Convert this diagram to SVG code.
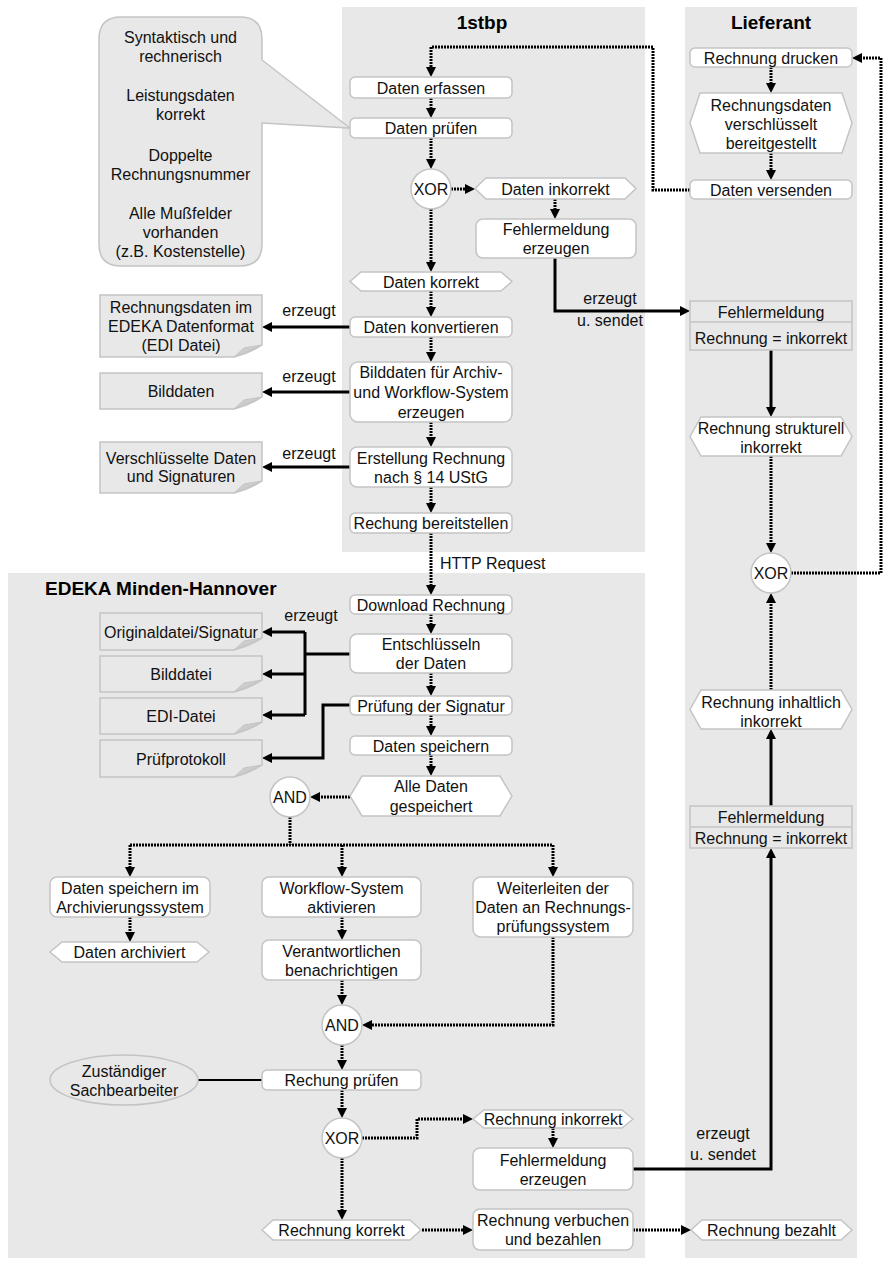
<svg xmlns="http://www.w3.org/2000/svg" width="892" height="1261" viewBox="0 0 892 1261">
<style>
.lane{fill:#e8e8e8}
.box{fill:#fff;stroke:#c4c4c4;stroke-width:1.5}
.doc{fill:#e8e8e8;stroke:#c4c4c4;stroke-width:1.5}
.fold{fill:#cdcdcd;stroke:#c4c4c4;stroke-width:1}
.t{font-family:"Liberation Sans",Arial,sans-serif;font-size:16px;fill:#111;text-anchor:middle}
.title{font-weight:bold;font-size:19px;fill:#000}
.st{text-anchor:start}
.dot{fill:none;stroke:#000;stroke-width:3;stroke-dasharray:2 1;marker-end:url(#arr)}
.sol{fill:none;stroke:#000;stroke-width:3;marker-end:url(#arr)}
.solp{fill:none;stroke:#000;stroke-width:3}
</style>
<defs>
<marker id="arr" viewBox="0 0 10 10" refX="4" refY="5" markerWidth="10" markerHeight="10" markerUnits="userSpaceOnUse" orient="auto">
<path d="M0,0 L10,5 L0,10 Z" fill="#000"/>
</marker>
</defs>
<rect width="892" height="1261" fill="#fff"/>
<g id="lanes">
<rect class="lane" x="342" y="7" width="303" height="545"/>
<rect class="lane" x="685" y="7" width="172" height="1251"/>
<rect class="lane" x="8" y="573" width="637" height="685"/>
<text class="t title" x="482" y="29">1stbp</text>
<text class="t title" x="771" y="29">Lieferant</text>
<text class="t title st" x="45" y="595">EDEKA Minden-Hannover</text>
</g>
<g id="callout">
<path class="doc" d="M121,17 H240 Q262,17 262,39 V60 L350,128 L262,123 V244 Q262,266 240,266 H121 Q99,266 99,244 V39 Q99,17 121,17 Z"/>
<text class="t" x="180.5" y="43">Syntaktisch und</text>
<text class="t" x="180.5" y="62">rechnerisch</text>
<text class="t" x="180.5" y="101">Leistungsdaten</text>
<text class="t" x="180.5" y="120">korrekt</text>
<text class="t" x="180.5" y="161">Doppelte</text>
<text class="t" x="180.5" y="180">Rechnungsnummer</text>
<text class="t" x="180.5" y="219">Alle Mußfelder</text>
<text class="t" x="180.5" y="238">vorhanden</text>
<text class="t" x="180.5" y="257">(z.B. Kostenstelle)</text>
</g>
<g id="connectors">
<path class="dot" d="M690,190 H653 V47 H431 V71"/>
<path class="dot" d="M791,573 H881 V58 H858"/>
<path class="dot" d="M431,98 V112"/>
<path class="dot" d="M431,138 V163"/>
<path class="dot" d="M451,189 H469"/>
<path class="dot" d="M555,199 V213"/>
<path class="dot" d="M431,209 V266"/>
<path class="dot" d="M431,291 V311"/>
<path class="dot" d="M431,337 V356"/>
<path class="dot" d="M431,422 V441"/>
<path class="dot" d="M431,487 V507"/>
<path class="dot" d="M431,533 V589"/>
<path class="dot" d="M431,614 V628"/>
<path class="dot" d="M431,673 V690"/>
<path class="dot" d="M431,715 V730"/>
<path class="dot" d="M431,755 V770"/>
<path class="dot" d="M350,797 H316"/>
<path class="dot" d="M290,817 V845 M130,845 H553" style="marker-end:none"/>
<path class="dot" d="M130,845 V871"/>
<path class="dot" d="M342,845 V871"/>
<path class="dot" d="M553,845 V871"/>
<path class="dot" d="M130,917 V936"/>
<path class="dot" d="M342,917 V934"/>
<path class="dot" d="M342,980 V999"/>
<path class="dot" d="M553,937 V1025 H368"/>
<path class="dot" d="M342,1045 V1064"/>
<path class="dot" d="M342,1090 V1112"/>
<path class="dot" d="M362,1138 H417 V1119 H467"/>
<path class="dot" d="M553,1128 V1142"/>
<path class="dot" d="M342,1158 V1214"/>
<path class="dot" d="M422,1230 H467"/>
<path class="dot" d="M633,1230 H685"/>
<path class="dot" d="M771,67 V87"/>
<path class="dot" d="M771,153 V174"/>
<path class="dot" d="M771,456 V547"/>
<path class="dot" d="M771,690 V599"/>
<path class="sol" d="M350,327 H268"/>
<path class="sol" d="M350,392 H268"/>
<path class="sol" d="M350,467 H268"/>
<path class="sol" d="M555,258 V311 H684"/>
<path class="sol" d="M771,350 V411"/>
<path class="solp" d="M350,654 H305 M305,632 V715"/>
<path class="sol" d="M305,632 H268"/>
<path class="sol" d="M305,674 H268"/>
<path class="sol" d="M305,715 H268"/>
<path class="sol" d="M350,705 H323 V758 H268"/>
<path class="sol" d="M633,1169 H771 V854"/>
<path class="sol" d="M771,806 V735"/>
<path d="M198,1080 H262" fill="none" stroke="#000" stroke-width="2"/>
<text class="t" x="309" y="316">erzeugt</text>
<text class="t" x="309" y="382">erzeugt</text>
<text class="t" x="309" y="459">erzeugt</text>
<text class="t" x="610" y="304">erzeugt</text>
<text class="t" x="610" y="326">u. sendet</text>
<text class="t st" x="440" y="569">HTTP Request</text>
<text class="t" x="311" y="621">erzeugt</text>
<text class="t" x="723" y="1139">erzeugt</text>
<text class="t" x="723" y="1160">u. sendet</text>
</g>
<g id="n_erfassen"><rect class="box" x="350" y="77" width="162" height="21" rx="5"/><text class="t" x="431" y="93.5">Daten erfassen</text></g>
<g id="n_pruefen"><rect class="box" x="350" y="118" width="162" height="20" rx="5"/><text class="t" x="431" y="134">Daten prüfen</text></g>
<g id="g_xor1"><circle class="box" cx="431" cy="189" r="20"/><text class="t" x="431" y="195">XOR</text></g>
<g id="e_dinkorrekt"><polygon class="box" points="475,188.5 486,178 625,178 636,188.5 625,199 486,199"/><text class="t" x="555.5" y="194.5">Daten inkorrekt</text></g>
<g id="n_fm1"><rect class="box" x="476" y="219" width="160" height="39" rx="7"/><text class="t" x="556" y="235">Fehlermeldung</text><text class="t" x="556" y="254">erzeugen</text></g>
<g id="e_dkorrekt"><polygon class="box" points="350,281.5 361,272 501,272 512,281.5 501,291 361,291"/><text class="t" x="431" y="287.5">Daten korrekt</text></g>
<g id="n_konv"><rect class="box" x="350" y="317" width="162" height="20" rx="5"/><text class="t" x="431" y="333">Daten konvertieren</text></g>
<g id="n_bild"><rect class="box" x="350" y="362" width="162" height="60" rx="8"/><text class="t" x="431" y="378">Bilddaten für Archiv-</text><text class="t" x="431" y="398">und Workflow-System</text><text class="t" x="431" y="418">erzeugen</text></g>
<g id="n_erst"><rect class="box" x="350" y="447" width="162" height="40" rx="7"/><text class="t" x="431" y="464">Erstellung Rechnung</text><text class="t" x="431" y="483">nach § 14 UStG</text></g>
<g id="n_bereit"><rect class="box" x="350" y="513" width="162" height="20" rx="5"/><text class="t" x="431" y="529">Rechung bereitstellen</text></g>
<g id="d_edi"><path class="doc" d="M100,295 H262 V345 Q250,353 234,357 H100 Z"/><path class="fold" d="M262,345 L244,348 L234,357 Z"/><text class="t" x="181" y="313">Rechnungsdaten im</text><text class="t" x="181" y="332">EDEKA Datenformat</text><text class="t" x="181" y="351">(EDI Datei)</text></g>
<g id="d_bild"><path class="doc" d="M100,373 H262 V397 Q250,405 234,409 H100 Z"/><path class="fold" d="M262,397 L244,400 L234,409 Z"/><text class="t" x="181" y="397">Bilddaten</text></g>
<g id="d_sig"><path class="doc" d="M100,442 H262 V481 Q250,489 234,493 H100 Z"/><path class="fold" d="M262,481 L244,484 L234,493 Z"/><text class="t" x="181" y="464">Verschlüsselte Daten</text><text class="t" x="181" y="482">und Signaturen</text></g>
<g id="l_drucken"><rect class="box" x="690" y="48" width="162" height="19" rx="5"/><text class="t" x="771" y="63.5">Rechnung drucken</text></g>
<g id="l_bereit"><polygon class="box" points="690,123 700,93 842,93 852,123 842,153 700,153"/><text class="t" x="771" y="110.5">Rechnungsdaten</text><text class="t" x="771" y="129.5">verschlüsselt</text><text class="t" x="771" y="148.5">bereitgestellt</text></g>
<g id="l_versenden"><rect class="box" x="690" y="180" width="162" height="19" rx="5"/><text class="t" x="771" y="195.5">Daten versenden</text></g>
<g id="l_fm1"><rect class="doc" x="690" y="301" width="162" height="49"/><line x1="690" y1="322" x2="852" y2="322" stroke="#c4c4c4" stroke-width="1.5"/><text class="t" x="771" y="317.5">Fehlermeldung</text><text class="t" x="771" y="344">Rechnung = inkorrekt</text></g>
<g id="l_strukt"><polygon class="box" points="690,436.5 701,417 841,417 852,436.5 841,456 701,456"/><text class="t" x="771" y="434">Rechnung strukturell</text><text class="t" x="771" y="453">inkorrekt</text></g>
<g id="l_xor"><circle class="box" cx="771" cy="573" r="20"/><text class="t" x="771" y="579">XOR</text></g>
<g id="l_inhalt"><polygon class="box" points="690,709.5 701,690 841,690 852,709.5 841,729 701,729"/><text class="t" x="771" y="708">Rechnung inhaltlich</text><text class="t" x="771" y="727">inkorrekt</text></g>
<g id="l_fm2"><rect class="doc" x="690" y="806" width="162" height="42"/><line x1="690" y1="827" x2="852" y2="827" stroke="#c4c4c4" stroke-width="1.5"/><text class="t" x="771" y="822.5">Fehlermeldung</text><text class="t" x="771" y="844">Rechnung = inkorrekt</text></g>
<g id="l_bezahlt"><polygon class="box" points="691,1230 702,1220 841,1220 852,1230 841,1240 702,1240"/><text class="t" x="771.5" y="1236">Rechnung bezahlt</text></g>
<g id="e_download"><rect class="box" x="350" y="595" width="162" height="19" rx="5"/><text class="t" x="431" y="610.5">Download Rechnung</text></g>
<g id="e_entschl"><rect class="box" x="350" y="634" width="162" height="39" rx="7"/><text class="t" x="431" y="650">Entschlüsseln</text><text class="t" x="431" y="669">der Daten</text></g>
<g id="e_signatur"><rect class="box" x="350" y="696" width="162" height="19" rx="5"/><text class="t" x="431" y="711.5">Prüfung der Signatur</text></g>
<g id="e_speichern"><rect class="box" x="350" y="736" width="162" height="19" rx="5"/><text class="t" x="431" y="751.5">Daten speichern</text></g>
<g id="e_alle"><polygon class="box" points="350,796 362,776 500,776 512,796 500,816 362,816"/><text class="t" x="431" y="792">Alle Daten</text><text class="t" x="431" y="812">gespeichert</text></g>
<g id="e_and1"><circle class="box" cx="290" cy="797" r="20"/><text class="t" x="290" y="803">AND</text></g>
<g id="d_orig"><path class="doc" d="M100,613 H262 V638 Q250,646 234,650 H100 Z"/><path class="fold" d="M262,638 L244,641 L234,650 Z"/><text class="t" x="181" y="637.5">Originaldatei/Signatur</text></g>
<g id="d_bilddatei"><path class="doc" d="M100,656 H262 V680 Q250,688 234,692 H100 Z"/><path class="fold" d="M262,680 L244,683 L234,692 Z"/><text class="t" x="181" y="680">Bilddatei</text></g>
<g id="d_edidatei"><path class="doc" d="M100,698 H262 V722 Q250,730 234,734 H100 Z"/><path class="fold" d="M262,722 L244,725 L234,734 Z"/><text class="t" x="181" y="722">EDI-Datei</text></g>
<g id="d_pruef"><path class="doc" d="M100,740 H262 V765 Q250,773 234,777 H100 Z"/><path class="fold" d="M262,765 L244,768 L234,777 Z"/><text class="t" x="181" y="764.5">Prüfprotokoll</text></g>
<g id="e_archiv"><rect class="box" x="50" y="877" width="160" height="40" rx="7"/><text class="t" x="130" y="893.5">Daten speichern im</text><text class="t" x="130" y="912.5">Archivierungssystem</text></g>
<g id="e_workflow"><rect class="box" x="262" y="877" width="159" height="40" rx="7"/><text class="t" x="341.5" y="893.5">Workflow-System</text><text class="t" x="341.5" y="912.5">aktivieren</text></g>
<g id="e_weiter"><rect class="box" x="473" y="877" width="160" height="60" rx="8"/><text class="t" x="553" y="894">Weiterleiten der</text><text class="t" x="553" y="913">Daten an Rechnungs-</text><text class="t" x="553" y="932">prüfungssystem</text></g>
<g id="e_archiviert"><polygon class="box" points="50,952 62,942 197,942 209,952 197,962 62,962"/><text class="t" x="129.5" y="958">Daten archiviert</text></g>
<g id="e_verantw"><rect class="box" x="262" y="940" width="159" height="40" rx="7"/><text class="t" x="341.5" y="956.5">Verantwortlichen</text><text class="t" x="341.5" y="975.5">benachrichtigen</text></g>
<g id="e_and2"><circle class="box" cx="342" cy="1025" r="20"/><text class="t" x="342" y="1031">AND</text></g>
<g id="e_sach"><ellipse class="doc" cx="124" cy="1080" rx="74" ry="25"/><text class="t" x="124" y="1077">Zuständiger</text><text class="t" x="124" y="1096">Sachbearbeiter</text></g>
<g id="e_rpruefen"><rect class="box" x="262" y="1070" width="159" height="20" rx="5"/><text class="t" x="341.5" y="1086">Rechung prüfen</text></g>
<g id="e_xor3"><circle class="box" cx="342" cy="1138" r="20"/><text class="t" x="342" y="1144">XOR</text></g>
<g id="e_rinkorrekt"><polygon class="box" points="473,1119 484,1110 622,1110 633,1119 622,1128 484,1128"/><text class="t" x="553" y="1125">Rechnung inkorrekt</text></g>
<g id="e_fm2"><rect class="box" x="473" y="1148" width="160" height="42" rx="7"/><text class="t" x="553" y="1165.5">Fehlermeldung</text><text class="t" x="553" y="1184.5">erzeugen</text></g>
<g id="e_rkorrekt"><polygon class="box" points="262,1230 273,1220 410,1220 421,1230 410,1240 273,1240"/><text class="t" x="341.5" y="1236">Rechnung korrekt</text></g>
<g id="e_verbuchen"><rect class="box" x="473" y="1209" width="160" height="41" rx="7"/><text class="t" x="553" y="1226">Rechnung verbuchen</text><text class="t" x="553" y="1245">und bezahlen</text></g>
</svg>
